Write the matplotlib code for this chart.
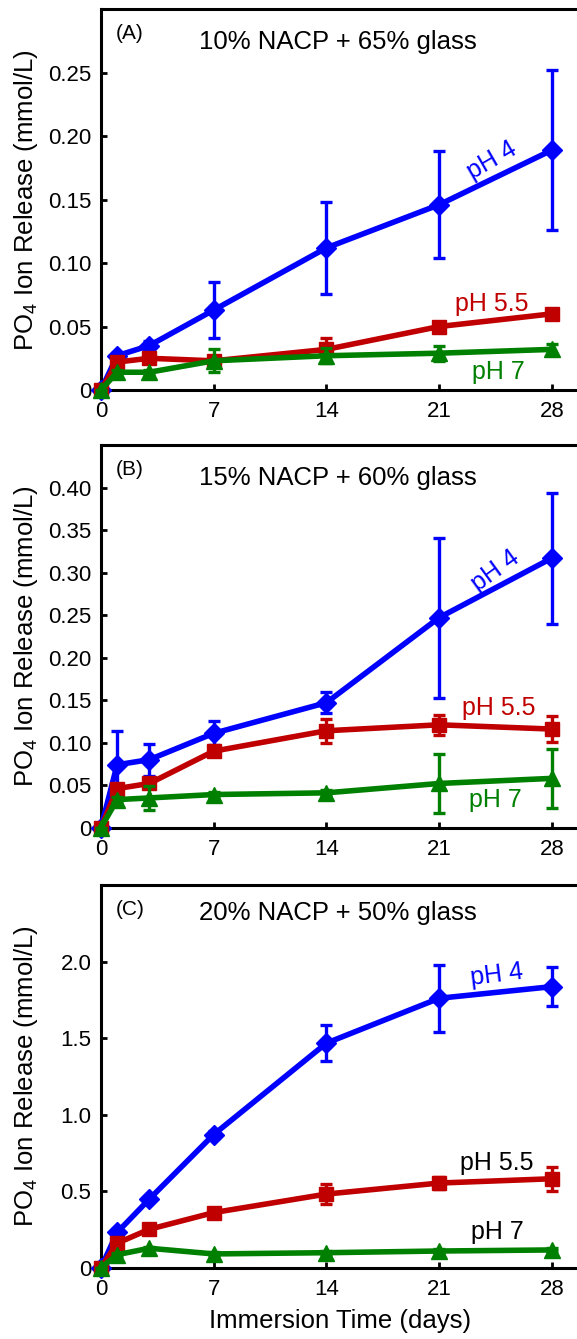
import numpy as np
import matplotlib
matplotlib.use('Agg')
from matplotlib import pyplot as plt

plt.rcParams['font.family'] = ['Liberation Sans', 'DejaVu Sans']
plt.rcParams['mathtext.fontset'] = 'custom'
plt.rcParams['mathtext.rm'] = 'Liberation Sans'
plt.rcParams['mathtext.default'] = 'regular'

#immersion days
days = [0, 1, 3, 7, 14, 21, 28]

#panel A: 10% NACP + 65% glass
a_ph4 = [0, 0.027, 0.035, 0.063, 0.112, 0.146, 0.189]
a_ph4_err = [0, 0.002, 0.004, 0.022, 0.036, 0.042, 0.063]
a_ph55 = [0, 0.022, 0.025, 0.023, 0.032, 0.050, 0.060]
a_ph55_err = [0, 0.002, 0.002, 0.002, 0.009, 0.003, 0.002]
a_ph7 = [0, 0.014, 0.014, 0.023, 0.027, 0.029, 0.032]
a_ph7_err = [0, 0.002, 0.002, 0.009, 0.006, 0.006, 0.004]

#panel B: 15% NACP + 60% glass
b_ph4 = [0, 0.074, 0.080, 0.111, 0.147, 0.247, 0.317]
b_ph4_err = [0, 0.040, 0.019, 0.014, 0.012, 0.094, 0.077]
b_ph55 = [0, 0.046, 0.052, 0.090, 0.114, 0.121, 0.116]
b_ph55_err = [0, 0.004, 0.004, 0.004, 0.014, 0.012, 0.015]
b_ph7 = [0, 0.033, 0.035, 0.039, 0.041, 0.052, 0.058]
b_ph7_err = [0, 0.003, 0.014, 0.003, 0.003, 0.035, 0.035]

#panel C: 20% NACP + 50% glass
c_ph4 = [0, 0.23, 0.448, 0.87, 1.467, 1.76, 1.836]
c_ph4_err = [0, 0.02, 0.02, 0.02, 0.118, 0.22, 0.128]
c_ph55 = [0, 0.16, 0.251, 0.36, 0.481, 0.553, 0.581]
c_ph55_err = [0, 0.02, 0.02, 0.03, 0.065, 0.04, 0.08]
c_ph7 = [0, 0.085, 0.127, 0.09, 0.098, 0.109, 0.116]
c_ph7_err = [0, 0.01, 0.01, 0.01, 0.01, 0.01, 0.01]

titles = ['10% NACP + 65% glass', '15% NACP + 60% glass', '20% NACP + 50% glass']
panel_tags = ['(A)', '(B)', '(C)']
ylims = [0.30, 0.45, 2.5]
yticks_list = [[0, 0.05, 0.10, 0.15, 0.20, 0.25],
               [0, 0.05, 0.10, 0.15, 0.20, 0.25, 0.30, 0.35, 0.40],
               [0, 0.5, 1.0, 1.5, 2.0]]
ytick_labels_list = [['0', '0.05', '0.10', '0.15', '0.20', '0.25'],
                     ['0', '0.05', '0.10', '0.15', '0.20', '0.25', '0.30', '0.35', '0.40'],
                     ['0', '0.5', '1.0', '1.5', '2.0']]
xticks = [0, 7, 14, 21, 28]

blue = '#0000FF'
red = '#C00000'
green = '#008000'

panels = [(a_ph4, a_ph4_err, a_ph55, a_ph55_err, a_ph7, a_ph7_err),
          (b_ph4, b_ph4_err, b_ph55, b_ph55_err, b_ph7, b_ph7_err),
          (c_ph4, c_ph4_err, c_ph55, c_ph55_err, c_ph7, c_ph7_err)]

#text labels for the curves: (x, y, rotation, color)
label_pos = [
    [(24.3, 0.181, 30, blue), (24.3, 0.068, 0, red), (24.7, 0.0145, 0, green)],
    [(24.5, 0.302, 36, blue), (24.7, 0.141, 0, red), (24.5, 0.033, 0, green)],
    [(24.6, 1.91, 7, blue), (24.6, 0.684, 0, 'black'), (24.6, 0.23, 0, 'black')],
]
label_text = ['pH 4', 'pH 5.5', 'pH 7']

#axes boxes in pixels (top, bottom) of 1339 tall figure
boxes = [(9.3, 390.0), (445.0, 827.7), (885.0, 1267.7)]
H = 1339.0
W = 577.0

fig = plt.figure(figsize=(5.77, 13.39), dpi=100)

for i in range(3):
    top, bot = boxes[i]
    ax = fig.add_axes([101 / W, 1 - bot / H, 483 / W, (bot - top) / H])
    p4, p4e, p55, p55e, p7, p7e = panels[i]
    ax.errorbar(days, p4, yerr=p4e, color=blue, lw=4, marker='D', ms=10,
                elinewidth=2.4, capsize=4.5, capthick=2.4, clip_on=False, zorder=3)
    ax.errorbar(days, p55, yerr=p55e, color=red, lw=4, marker='s', ms=10,
                elinewidth=2.4, capsize=4.5, capthick=2.4, clip_on=False, zorder=4)
    ax.errorbar(days, p7, yerr=p7e, color=green, lw=4, marker='^', ms=12,
                elinewidth=2.4, capsize=4.5, capthick=2.4, clip_on=False, zorder=5)

    ax.set_xlim(0, 30)
    ax.set_ylim(0, ylims[i])
    ax.set_xticks(xticks)
    ax.set_yticks(yticks_list[i])
    ax.set_yticklabels(ytick_labels_list[i])
    ax.tick_params(direction='in', length=4, width=2, labelsize=16)
    ax.tick_params(axis='y', pad=7)
    ax.tick_params(axis='x', pad=8)
    for sp in ax.spines.values():
        sp.set_linewidth(2.2)

    ax.set_ylabel('PO$_4$ Ion Release (mmol/L)', fontsize=18.5)
    ax.yaxis.set_label_coords(-0.126, 0.5)

    ax.text(0.06, 0.937, panel_tags[i], transform=ax.transAxes, fontsize=15,
            ha='center', va='center')
    ax.text(0.49, 0.915 if i < 2 else 0.927, titles[i], transform=ax.transAxes,
            fontsize=18.5, ha='center', va='center')

    for (lx, ly, rot, col), txt in zip(label_pos[i], label_text):
        ax.text(lx, ly, txt, color=col, fontsize=18, rotation=rot,
                ha='center', va='center', rotation_mode='anchor')

    if i == 2:
        ax.set_xlabel('Immersion Time (days)', fontsize=18.5)
        ax.xaxis.set_label_coords(0.494, -0.107)

fig.savefig('out.png', dpi=100)
